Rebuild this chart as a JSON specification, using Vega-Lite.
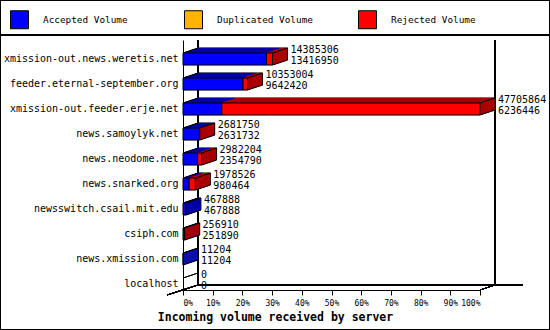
{
  "$schema": "https://vega.github.io/schema/vega-lite/v6.json",
  "width": 550,
  "height": 330,
  "autosize": "none",
  "padding": 0,
  "background": "white",
  "config": {"view": {"stroke": "black", "strokeWidth": 2}, "font": "DejaVu Sans Mono"},
  "datasets": {
    "bars": [
      {"host": "xmission-out.news.weretis.net", "type": "Accepted Volume", "volume": 13416950},
      {"host": "xmission-out.news.weretis.net", "type": "Rejected Volume", "volume": 968356},
      {"host": "feeder.eternal-september.org", "type": "Accepted Volume", "volume": 9642420},
      {"host": "feeder.eternal-september.org", "type": "Rejected Volume", "volume": 710584},
      {"host": "xmission-out.feeder.erje.net", "type": "Accepted Volume", "volume": 6236446},
      {"host": "xmission-out.feeder.erje.net", "type": "Rejected Volume", "volume": 41469418},
      {"host": "news.samoylyk.net", "type": "Accepted Volume", "volume": 2631732},
      {"host": "news.samoylyk.net", "type": "Rejected Volume", "volume": 50018},
      {"host": "news.neodome.net", "type": "Accepted Volume", "volume": 2354790},
      {"host": "news.neodome.net", "type": "Rejected Volume", "volume": 627414},
      {"host": "news.snarked.org", "type": "Accepted Volume", "volume": 980464},
      {"host": "news.snarked.org", "type": "Rejected Volume", "volume": 998062},
      {"host": "newsswitch.csail.mit.edu", "type": "Accepted Volume", "volume": 467888},
      {"host": "csiph.com", "type": "Accepted Volume", "volume": 251890},
      {"host": "csiph.com", "type": "Rejected Volume", "volume": 5020},
      {"host": "news.xmission.com", "type": "Accepted Volume", "volume": 11204}
    ],
    "labels": [
      {"host": "xmission-out.news.weretis.net", "total": 14385306, "accepted": 13416950},
      {"host": "feeder.eternal-september.org", "total": 10353004, "accepted": 9642420},
      {"host": "xmission-out.feeder.erje.net", "total": 47705864, "accepted": 6236446},
      {"host": "news.samoylyk.net", "total": 2681750, "accepted": 2631732},
      {"host": "news.neodome.net", "total": 2982204, "accepted": 2354790},
      {"host": "news.snarked.org", "total": 1978526, "accepted": 980464},
      {"host": "newsswitch.csail.mit.edu", "total": 467888, "accepted": 467888},
      {"host": "csiph.com", "total": 256910, "accepted": 251890},
      {"host": "news.xmission.com", "total": 11204, "accepted": 11204},
      {"host": "localhost", "total": 0, "accepted": 0}
    ]
  },
  "layer": [
    {
      "data": {"name": "labels"},
      "mark": {"type": "rule", "xOffset": 15, "yOffset": -19, "y2Offset": 1, "color": "black", "strokeWidth": 1},
      "encoding": {
        "x": {"datum": 0, "type": "quantitative",
          "scale": {"domain": [0, 47705864], "range": [183, 480], "nice": false, "zero": true},
          "axis": {"orient": "bottom", "offset": -40,
            "values": [0, 4770586.4, 9541172.8, 14311759.2, 19082345.6, 23852932, 28623518.4, 33394104.8, 38164691.2, 42935277.6, 47705864],
            "labelExpr": "round(datum.value/477058.64) + '%'",
            "tickSize": 5, "tickColor": "black", "domainColor": "black", "grid": false,
            "labelFont": "DejaVu Sans Mono", "labelFontSize": 8, "labelColor": "black", "labelPadding": 4,
            "title": "Incoming volume received by server",
            "titleFont": "DejaVu Sans Mono", "titleFontSize": 11.5, "titleFontWeight": "bold", "titleColor": "black",
            "titleX": 275, "titleY": 27, "titleAlign": "center", "titleBaseline": "middle"}},
        "y": {"datum": "xmission-out.news.weretis.net", "type": "nominal",
          "scale": {"type": "band", "domain": ["xmission-out.news.weretis.net", "feeder.eternal-september.org", "xmission-out.feeder.erje.net", "news.samoylyk.net", "news.neodome.net", "news.snarked.org", "newsswitch.csail.mit.edu", "csiph.com", "news.xmission.com", "localhost"],
            "range": [40, 290], "paddingInner": 0.52, "paddingOuter": 0.26, "align": 1},
          "axis": {"orient": "left", "offset": -183, "ticks": false, "domainColor": "black", "labelPadding": 5,
            "labelFont": "DejaVu Sans Mono", "labelFontSize": 10, "labelColor": "black", "title": null, "labelLimit": 300}},
        "y2": {"datum": "localhost"}
      }
    },
    {
      "data": {"name": "labels"},
      "mark": {"type": "rule", "xOffset": 15, "yOffset": -19, "y2Offset": 1, "color": "black"},
      "encoding": {
        "x": {"datum": 47705864, "type": "quantitative"},
        "y": {"datum": "xmission-out.news.weretis.net", "type": "nominal"},
        "y2": {"datum": "localhost"}
      }
    },
    {
      "data": {"name": "labels"},
      "mark": {"type": "rule", "xOffset": 15, "yOffset": 1, "color": "black"},
      "encoding": {
        "x": {"datum": 0, "type": "quantitative"},
        "x2": {"datum": 54612874},
        "y": {"datum": "localhost", "type": "nominal"}
      }
    },
    {
      "data": {"name": "labels"},
      "mark": {"type": "rule", "yOffset": 6, "x2Offset": 15, "y2Offset": 1, "color": "black"},
      "encoding": {
        "x": {"datum": 47705864, "type": "quantitative"},
        "x2": {"datum": 47705864},
        "y": {"datum": "localhost", "type": "nominal"},
        "y2": {"datum": "localhost"}
      }
    },
    {
      "data": {"name": "labels"},
      "mark": {"type": "rule", "xOffset": -16, "yOffset": 11, "x2Offset": 15, "y2Offset": 1, "color": "black"},
      "encoding": {
        "x": {"datum": 0, "type": "quantitative"},
        "x2": {"datum": 0},
        "y": {"datum": "localhost", "type": "nominal"},
        "y2": {"datum": "localhost"}
      }
    },
    {
      "data": {"name": "labels"},
      "mark": {"type": "rule", "yOffset": -24, "color": "black"},
      "encoding": {
        "y": {"datum": "xmission-out.news.weretis.net", "type": "nominal"}
      }
    },
    {
      "data": {"name": "bars"},
      "mark": {"type": "bar", "xOffset": 15, "yOffset": -5, "stroke": "black", "strokeWidth": 1},
      "encoding": {
        "x": {"field": "volume", "type": "quantitative", "stack": "zero"},
        "y": {"field": "host", "type": "nominal"},
        "order": {"field": "type", "type": "ordinal", "sort": "ascending"},
        "fill": {"field": "type", "type": "nominal", "scale": {"domain": ["Rejected Volume", "Accepted Volume", "Duplicated Volume"], "range": ["#a80000", "#0000a8", "#a87800"]}, "legend": null}
      }
    },
    {"data": {"name": "bars"}, "mark": {"type": "bar", "xOffset": 14, "yOffset": -4.67, "strokeWidth": 1},
      "encoding": {"x": {"field": "volume", "type": "quantitative", "stack": "zero"}, "y": {"field": "host", "type": "nominal"},
        "order": {"field": "type", "type": "ordinal", "sort": "ascending"},
        "fill": {"field": "type", "type": "nominal", "legend": null},
        "stroke": {"field": "type", "type": "nominal", "scale": {"domain": ["Rejected Volume", "Accepted Volume", "Duplicated Volume"], "range": ["#a80000", "#0000a8", "#a87800"]}, "legend": null}}},
    {"data": {"name": "bars"}, "mark": {"type": "bar", "xOffset": 13, "yOffset": -4.33, "strokeWidth": 1},
      "encoding": {"x": {"field": "volume", "type": "quantitative", "stack": "zero"}, "y": {"field": "host", "type": "nominal"},
        "order": {"field": "type", "type": "ordinal", "sort": "ascending"},
        "fill": {"field": "type", "type": "nominal", "legend": null}, "stroke": {"field": "type", "type": "nominal", "legend": null}}},
    {"data": {"name": "bars"}, "mark": {"type": "bar", "xOffset": 12, "yOffset": -4, "strokeWidth": 1},
      "encoding": {"x": {"field": "volume", "type": "quantitative", "stack": "zero"}, "y": {"field": "host", "type": "nominal"},
        "order": {"field": "type", "type": "ordinal", "sort": "ascending"},
        "fill": {"field": "type", "type": "nominal", "legend": null}, "stroke": {"field": "type", "type": "nominal", "legend": null}}},
    {"data": {"name": "bars"}, "mark": {"type": "bar", "xOffset": 11, "yOffset": -3.67, "strokeWidth": 1},
      "encoding": {"x": {"field": "volume", "type": "quantitative", "stack": "zero"}, "y": {"field": "host", "type": "nominal"},
        "order": {"field": "type", "type": "ordinal", "sort": "ascending"},
        "fill": {"field": "type", "type": "nominal", "legend": null}, "stroke": {"field": "type", "type": "nominal", "legend": null}}},
    {"data": {"name": "bars"}, "mark": {"type": "bar", "xOffset": 10, "yOffset": -3.33, "strokeWidth": 1},
      "encoding": {"x": {"field": "volume", "type": "quantitative", "stack": "zero"}, "y": {"field": "host", "type": "nominal"},
        "order": {"field": "type", "type": "ordinal", "sort": "ascending"},
        "fill": {"field": "type", "type": "nominal", "legend": null}, "stroke": {"field": "type", "type": "nominal", "legend": null}}},
    {"data": {"name": "bars"}, "mark": {"type": "bar", "xOffset": 9, "yOffset": -3, "strokeWidth": 1},
      "encoding": {"x": {"field": "volume", "type": "quantitative", "stack": "zero"}, "y": {"field": "host", "type": "nominal"},
        "order": {"field": "type", "type": "ordinal", "sort": "ascending"},
        "fill": {"field": "type", "type": "nominal", "legend": null}, "stroke": {"field": "type", "type": "nominal", "legend": null}}},
    {"data": {"name": "bars"}, "mark": {"type": "bar", "xOffset": 8, "yOffset": -2.67, "strokeWidth": 1},
      "encoding": {"x": {"field": "volume", "type": "quantitative", "stack": "zero"}, "y": {"field": "host", "type": "nominal"},
        "order": {"field": "type", "type": "ordinal", "sort": "ascending"},
        "fill": {"field": "type", "type": "nominal", "legend": null}, "stroke": {"field": "type", "type": "nominal", "legend": null}}},
    {"data": {"name": "bars"}, "mark": {"type": "bar", "xOffset": 7, "yOffset": -2.33, "strokeWidth": 1},
      "encoding": {"x": {"field": "volume", "type": "quantitative", "stack": "zero"}, "y": {"field": "host", "type": "nominal"},
        "order": {"field": "type", "type": "ordinal", "sort": "ascending"},
        "fill": {"field": "type", "type": "nominal", "legend": null}, "stroke": {"field": "type", "type": "nominal", "legend": null}}},
    {"data": {"name": "bars"}, "mark": {"type": "bar", "xOffset": 6, "yOffset": -2, "strokeWidth": 1},
      "encoding": {"x": {"field": "volume", "type": "quantitative", "stack": "zero"}, "y": {"field": "host", "type": "nominal"},
        "order": {"field": "type", "type": "ordinal", "sort": "ascending"},
        "fill": {"field": "type", "type": "nominal", "legend": null}, "stroke": {"field": "type", "type": "nominal", "legend": null}}},
    {"data": {"name": "bars"}, "mark": {"type": "bar", "xOffset": 5, "yOffset": -1.67, "strokeWidth": 1},
      "encoding": {"x": {"field": "volume", "type": "quantitative", "stack": "zero"}, "y": {"field": "host", "type": "nominal"},
        "order": {"field": "type", "type": "ordinal", "sort": "ascending"},
        "fill": {"field": "type", "type": "nominal", "legend": null}, "stroke": {"field": "type", "type": "nominal", "legend": null}}},
    {"data": {"name": "bars"}, "mark": {"type": "bar", "xOffset": 4, "yOffset": -1.33, "strokeWidth": 1},
      "encoding": {"x": {"field": "volume", "type": "quantitative", "stack": "zero"}, "y": {"field": "host", "type": "nominal"},
        "order": {"field": "type", "type": "ordinal", "sort": "ascending"},
        "fill": {"field": "type", "type": "nominal", "legend": null}, "stroke": {"field": "type", "type": "nominal", "legend": null}}},
    {"data": {"name": "bars"}, "mark": {"type": "bar", "xOffset": 3, "yOffset": -1, "strokeWidth": 1},
      "encoding": {"x": {"field": "volume", "type": "quantitative", "stack": "zero"}, "y": {"field": "host", "type": "nominal"},
        "order": {"field": "type", "type": "ordinal", "sort": "ascending"},
        "fill": {"field": "type", "type": "nominal", "legend": null}, "stroke": {"field": "type", "type": "nominal", "legend": null}}},
    {"data": {"name": "bars"}, "mark": {"type": "bar", "xOffset": 2, "yOffset": -0.67, "strokeWidth": 1},
      "encoding": {"x": {"field": "volume", "type": "quantitative", "stack": "zero"}, "y": {"field": "host", "type": "nominal"},
        "order": {"field": "type", "type": "ordinal", "sort": "ascending"},
        "fill": {"field": "type", "type": "nominal", "legend": null}, "stroke": {"field": "type", "type": "nominal", "legend": null}}},
    {"data": {"name": "bars"}, "mark": {"type": "bar", "xOffset": 1, "yOffset": -0.33, "strokeWidth": 1},
      "encoding": {"x": {"field": "volume", "type": "quantitative", "stack": "zero"}, "y": {"field": "host", "type": "nominal"},
        "order": {"field": "type", "type": "ordinal", "sort": "ascending"},
        "fill": {"field": "type", "type": "nominal", "legend": null}, "stroke": {"field": "type", "type": "nominal", "legend": null}}},
    {
      "data": {"name": "bars"},
      "mark": {"type": "bar", "stroke": "black", "strokeWidth": 1},
      "encoding": {
        "x": {"field": "volume", "type": "quantitative", "stack": "zero"},
        "y": {"field": "host", "type": "nominal"},
        "order": {"field": "type", "type": "ordinal", "sort": "ascending"},
        "color": {"field": "type", "type": "nominal",
          "scale": {"domain": ["Accepted Volume", "Duplicated Volume", "Rejected Volume"], "range": ["#0000ff", "#ffb400", "#ff0000"]},
          "legend": {"orient": "none", "legendX": 10, "legendY": 10, "direction": "horizontal", "columns": 3, "gridAlign": "all",
            "columnPadding": 43, "title": null, "symbolType": "square", "symbolSize": 324, "symbolStrokeColor": "black",
            "symbolStrokeWidth": 1, "symbolOpacity": 1, "labelFont": "DejaVu Sans Mono", "labelFontSize": 9.4,
            "labelColor": "black", "labelOffset": 14, "padding": 0}}
      }
    },
    {
      "data": {"name": "labels"},
      "mark": {"type": "rule", "yOffset": -6, "x2Offset": 15, "y2Offset": -11, "color": "black"},
      "encoding": {
        "x": {"datum": 0, "type": "quantitative"},
        "x2": {"datum": 0},
        "y": {"field": "host", "type": "nominal"},
        "y2": {"field": "host"}
      }
    },
    {
      "data": {"name": "labels"},
      "mark": {"type": "rule", "yOffset": -6, "x2Offset": 15, "y2Offset": -11, "color": "black"},
      "encoding": {
        "x": {"field": "total", "type": "quantitative"},
        "x2": {"field": "total"},
        "y": {"field": "host", "type": "nominal"},
        "y2": {"field": "host"}
      }
    },
    {
      "data": {"name": "labels"},
      "mark": {"type": "rule", "yOffset": 6, "x2Offset": 15, "y2Offset": 1, "color": "black"},
      "encoding": {
        "x": {"field": "total", "type": "quantitative"},
        "x2": {"field": "total"},
        "y": {"field": "host", "type": "nominal"},
        "y2": {"field": "host"}
      }
    },
    {
      "data": {"name": "labels"},
      "mark": {"type": "text", "align": "left", "baseline": "middle", "dx": 18, "dy": -9, "font": "DejaVu Sans Mono", "fontSize": 10, "color": "black"},
      "encoding": {
        "x": {"field": "total", "type": "quantitative"},
        "y": {"field": "host", "type": "nominal"},
        "text": {"field": "total", "type": "quantitative", "format": "d"}
      }
    },
    {
      "data": {"name": "labels"},
      "mark": {"type": "text", "align": "left", "baseline": "middle", "dx": 18, "dy": 2, "font": "DejaVu Sans Mono", "fontSize": 10, "color": "black"},
      "encoding": {
        "x": {"field": "total", "type": "quantitative"},
        "y": {"field": "host", "type": "nominal"},
        "text": {"field": "accepted", "type": "quantitative", "format": "d"}
      }
    }
  ]
}
